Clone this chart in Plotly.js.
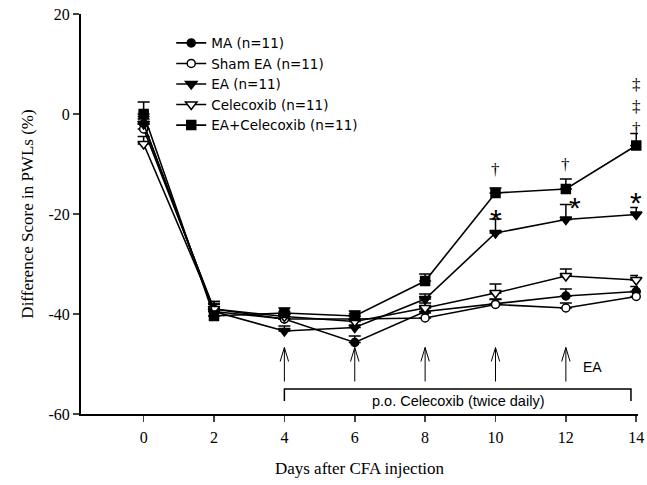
<!DOCTYPE html>
<html>
<head>
<meta charset="utf-8">
<script src="https://cdn.plot.ly/plotly-3.0.1.min.js"></script>
<style>html,body{margin:0;padding:0;background:#fff;}#chart{width:647px;height:485px;}</style>
</head>
<body>
<div id="chart"></div>
<script>
// ---- data ----
const days = [0, 2, 4, 6, 8, 10, 12, 14];
const groupNames = ["MA (n=11)", "Sham EA (n=11)", "EA (n=11)", "Celecoxib (n=11)", "EA+Celecoxib (n=11)"];
const maMean = [-2, -39.5, -41, -45.7, -39.5, -38, -36.4, -35.5];
const maErr = [1.5, 1.5, 1, 1.3, 1, 1, 1.4, 1];
const shamMean = [-3, -39, -41, -41, -40.8, -38.1, -38.8, -36.5];
const shamErr = [1.5, 1.5, 1, 1, 1, 1, 1, 1];
const eaMean = [-2, -39.5, -43.4, -42.7, -37, -23.8, -21.1, -20.1];
const eaErr = [1, 1.5, 1, 1.5, 1, 2.8, 3, 1.4];
const celMean = [-6, -39, -40.5, -41.5, -38.8, -35.8, -32.4, -33.2];
const celErr = [1.5, 1.5, 1, 1, 1, 1.8, 1.4, 0.9];
const comboMean = [0, -40.4, -39.8, -40.4, -33.4, -15.8, -15, -6.3];
const comboErr = [2.4, 1, 1, 1, 1.4, 1, 2, 2.4];
const yTickVals = [-60, -40, -20, 0, 20];
const yTickText = ["-60", "-40", "-20", "0", "20"];
const xTickVals = [0, 2, 4, 6, 8, 10, 12, 14];
const eaDays = [4, 6, 8, 10, 12];
const celecoxibStart = 4, celecoxibEnd = 13.85;
const starDays = [10, 12.25, 14];
const starY = [-19.5, -17.1, -16.1];
const daggerDays = [10, 12, 14];
const daggerY = [-11, -10, 1.5];
const daggerText = ["†", "†", "‡<br>‡<br>†"];

// ---- styles ----
const serif = "Liberation Serif, Times New Roman, serif";
const sans = "Liberation Sans, Arial, sans-serif";
const means = [maMean, shamMean, eaMean, celMean, comboMean];
const errs = [maErr, shamErr, eaErr, celErr, comboErr];
const symbols = ["circle", "circle", "triangle-down", "triangle-down", "square"];
const filled = [true, false, true, false, true];
const sizes = [8, 8, 10, 10, 9];

const traces = means.map((m, i) => ({
  x: days, y: m, name: groupNames[i], type: "scatter", mode: "lines+markers",
  line: {color: "#000", width: 1.6},
  marker: {symbol: symbols[i], size: sizes[i], color: filled[i] ? "#000" : "#fff",
           line: {color: "#000", width: 1.5}},
  error_y: {type: "data", symmetric: false, array: errs[i], arrayminus: days.map(() => 0),
            color: "#000", thickness: 1.5, width: 6},
  cliponaxis: false
}));

const shapes = [];
const tip = -46.7, base = -53.5;
eaDays.forEach(d => {
  shapes.push({type: "line", xref: "x", yref: "y", x0: d, x1: d, y0: base, y1: tip, line: {color: "#000", width: 1}});
  shapes.push({type: "path", xref: "x", yref: "y",
    path: `M ${d - 0.12},${tip - 2.8} L ${d},${tip} L ${d + 0.12},${tip - 2.8}`, line: {color: "#000", width: 1}});
});
shapes.push({type: "path", xref: "x", yref: "y",
  path: `M ${celecoxibStart},-57.4 L ${celecoxibStart},-55 L ${celecoxibEnd},-55 L ${celecoxibEnd},-57.4`,
  line: {color: "#000", width: 1.5}});

const annotations = [];
annotations.push({x: 12.42, y: -50.5, xref: "x", yref: "y", text: "EA", showarrow: false, xanchor: "left",
  font: {family: sans, size: 14, color: "#000"}});
annotations.push({x: (celecoxibStart + celecoxibEnd) / 2, y: -57.4, xref: "x", yref: "y",
  text: "p.o. Celecoxib (twice daily)", showarrow: false, font: {family: sans, size: 14.5, color: "#000"}});
starDays.forEach((d, i) => annotations.push({x: d, y: starY[i], xref: "x", yref: "y", text: "*", showarrow: false,
  font: {family: sans, size: 30, color: "#000"}, yshift: -8}));
daggerDays.forEach((d, i) => annotations.push({x: d, y: daggerY[i], xref: "x", yref: "y", text: daggerText[i],
  showarrow: false, font: {family: serif, size: 17, color: "#000"}}));

const layout = {
  width: 647, height: 485,
  margin: {l: 81, r: 9, t: 14, b: 71},
  paper_bgcolor: "#fff", plot_bgcolor: "#fff",
  showlegend: true,
  legend: {x: 0.162, y: 0.966, xanchor: "left", yanchor: "top", bgcolor: "rgba(0,0,0,0)",
           font: {family: "DejaVu Sans, sans-serif", size: 13.5, color: "#000"}, tracegroupgap: 0, itemwidth: 30},
  xaxis: {range: [-1.78, 14.05], tickvals: xTickVals, ticks: "outside", ticklen: 6, tickwidth: 1.5,
          showline: true, linecolor: "#000", linewidth: 2, showgrid: false, zeroline: false,
          ticklabelstandoff: 2,
          tickfont: {family: serif, size: 16, color: "#000"},
          title: {text: "Days after CFA injection", font: {family: serif, size: 17, color: "#000"}, standoff: 17}},
  yaxis: {range: [-60, 20], tickvals: yTickVals, ticktext: yTickText, ticks: "outside", ticklen: 6, tickwidth: 1.5,
          showline: true, linecolor: "#000", linewidth: 2, showgrid: false, zeroline: false,
          tickfont: {family: serif, size: 16, color: "#000"},
          title: {text: "Difference Score in PWLs (%)", font: {family: serif, size: 17, color: "#000"}, standoff: 11}},
  shapes: shapes, annotations: annotations
};
Plotly.newPlot("chart", traces, layout, {displayModeBar: false, staticPlot: true});
</script>
</body>
</html>
